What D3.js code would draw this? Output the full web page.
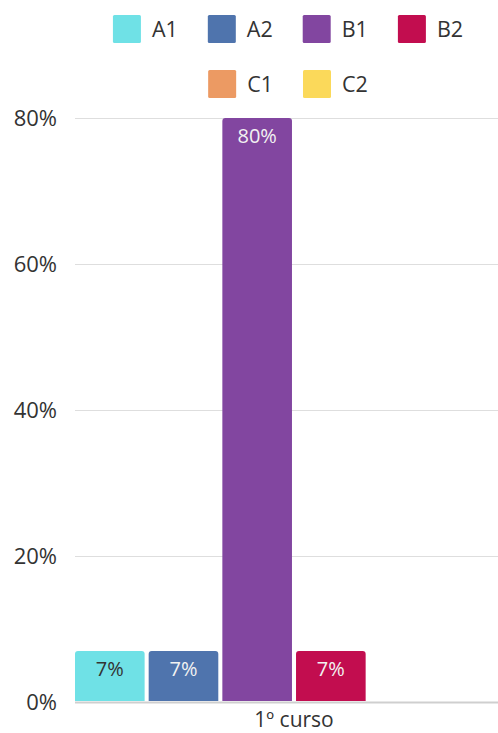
<!DOCTYPE html>
<html>
<head>
<meta charset="utf-8">
<script src="https://cdn.jsdelivr.net/npm/d3@7"></script>
<style>
  html, body { margin: 0; padding: 0; background: #fff; }
  svg { display: block; font-family: "Open Sans", sans-serif; }
</style>
</head>
<body>
<svg id="chart" width="498" height="733"></svg>
<script>
// Language level distribution for one school year
const categories = ["1º curso"];
const levels = ["A1", "A2", "B1", "B2", "C1", "C2"];
const values = [7, 7, 80, 7, 0, 0];
const colors = ["#6fe1e6", "#4f74ad", "#8246a0", "#c20d4f", "#ec9a63", "#fbd95a"];
const labelColors = ["#333333", "#f2f2f2", "#f2f2f2", "#f2f2f2", "#333333", "#333333"];
const yTicks = [0, 20, 40, 60, 80];

const svg = d3.select("#chart");
const W = 498, H = 733;
const plot = { left: 75, right: 513, top: 118, bottom: 702 };

const y = d3.scaleLinear().domain([0, 80]).range([plot.bottom, plot.top]);
const x0 = d3.scaleBand().domain(categories).range([plot.left, plot.right]).padding(0);
const x1 = d3.scaleBand().domain(levels).range([0, x0.bandwidth()]).paddingInner(0.055).paddingOuter(0);

// Gridlines and y labels
const yAxis = d3.axisLeft(y).tickValues(yTicks).tickSize(0).tickFormat(d => d + "%");
const gy = svg.append("g").attr("transform", `translate(${plot.left},0)`).call(yAxis);
gy.select(".domain").remove();
gy.selectAll(".tick text")
  .attr("x", -18)
  .attr("dy", "0.35em")
  .attr("fill", "#333")
  .style("font-size", "22px")
  .style("font-family", "'Open Sans', sans-serif");
gy.selectAll(".tick line")
  .attr("x1", 0)
  .attr("x2", W - plot.left)
  .attr("stroke", d => d === 0 ? "#cfcfcf" : "#dedede")
  .attr("stroke-width", d => d === 0 ? 2 : 1);

// Bars with slightly rounded tops
const r = 3;
function barPath(x, yTop, w, yBot) {
  const h = yBot - yTop;
  if (h <= 0) return "";
  const rr = Math.min(r, h);
  return `M${x},${yBot}V${yTop + rr}Q${x},${yTop} ${x + rr},${yTop}H${x + w - rr}Q${x + w},${yTop} ${x + w},${yTop + rr}V${yBot}Z`;
}
const group = svg.append("g").selectAll("g").data(categories).join("g")
  .attr("transform", d => `translate(${x0(d)},0)`);

const data = levels.map((l, i) => ({ level: l, value: values[i], color: colors[i], lc: labelColors[i] }));
group.selectAll("path.bar").data(data).join("path")
  .attr("class", "bar")
  .attr("d", d => barPath(x1(d.level), y(d.value), x1.bandwidth(), y(0) - 1))
  .attr("fill", d => d.color);

group.selectAll("text.val").data(data.filter(d => d.value > 0)).join("text")
  .attr("class", "val")
  .attr("x", d => x1(d.level) + x1.bandwidth() / 2)
  .attr("y", d => y(d.value) + 25)
  .attr("text-anchor", "middle")
  .attr("fill", d => d.lc)
  .style("font-size", "20px")
  .text(d => d.value + "%");

// Category label, centered under the set of bars
const xAxis = d3.axisBottom(x0).tickSize(0);
const gx = svg.append("g").attr("transform", `translate(0,${plot.bottom})`).call(xAxis);
gx.select(".domain").remove();
gx.selectAll(".tick").attr("transform", d => `translate(${x0(d) + (x1("C2") + x1.bandwidth()) / 2},0)`);
gx.selectAll(".tick text")
  .attr("y", 25)
  .attr("dy", null)
  .attr("fill", "#333")
  .style("font-size", "21px")
  .style("font-family", "'Open Sans', sans-serif");

// Legend: two centered rows
const rows = [levels.slice(0, 4), levels.slice(4)];
const rowY = [15, 70];
const sw = 28, gapText = 11, gapItem = 30;
const legendCenter = 288;
const legend = svg.append("g");
rows.forEach((row, ri) => {
  const g = legend.append("g");
  let cx = 0;
  row.forEach(l => {
    const i = levels.indexOf(l);
    const item = g.append("g").attr("transform", `translate(${cx},${rowY[ri]})`);
    item.append("rect").attr("width", sw).attr("height", sw).attr("rx", 1.5).attr("fill", colors[i]);
    const t = item.append("text")
      .attr("x", sw + gapText).attr("y", sw / 2).attr("dy", "0.35em")
      .attr("fill", "#333").style("font-size", "21.5px").text(l);
    cx += sw + gapText + t.node().getComputedTextLength() + gapItem;
  });
  const total = cx - gapItem;
  g.attr("transform", `translate(${legendCenter - total / 2},0)`);
});
</script>
</body>
</html>
